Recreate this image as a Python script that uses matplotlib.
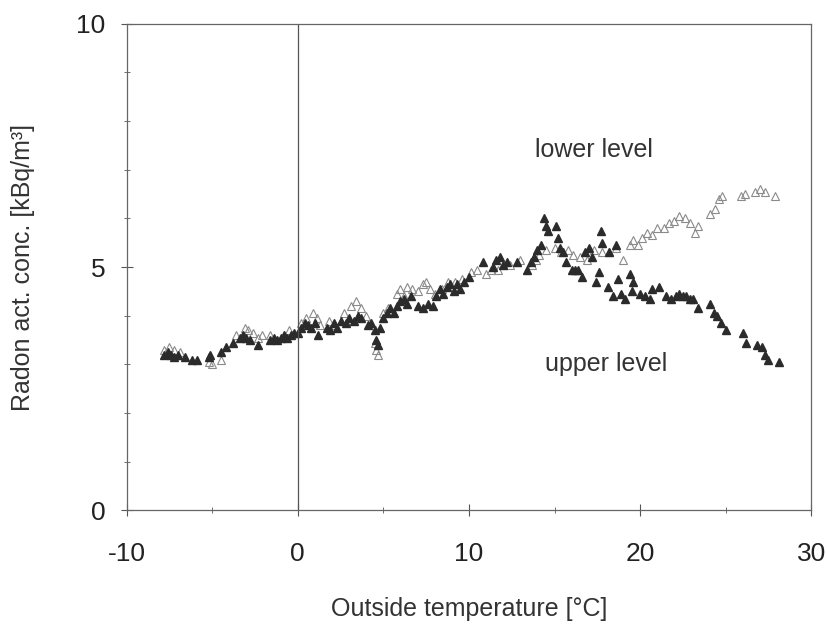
import matplotlib.pyplot as plt
from matplotlib.ticker import MultipleLocator

plt.rcParams['font.family'] = ['Liberation Sans', 'DejaVu Sans']
plt.rcParams['axes.unicode_minus'] = False

# upper level (filled triangles)
upper_x = [-7.8, -7.6, -7.4, -7.2, -7.0, -6.6, -6.2, -5.9, -5.2, -5.1, -4.5, -4.2, -3.8, -3.4, -3.2, -3.0,
           -2.8, -2.3, -1.6, -1.4, -1.2, -1.0, -0.8, -0.6, -0.4, -0.2, 0.0, 0.2, 0.4, 0.6, 0.8, 1.0,
           1.2, 1.7, 1.9, 2.1, 2.3, 2.5, 2.8, 3.0, 3.3, 3.5, 3.7, 4.1, 4.3, 4.5, 4.6, 4.7,
           4.8, 5.0, 5.2, 5.4, 5.6, 5.8, 6.0, 6.2, 6.4, 6.6, 7.0, 7.3, 7.6, 7.9, 8.1, 8.3,
           8.5, 8.7, 8.9, 9.1, 9.3, 9.5, 9.7, 10.0, 10.8, 11.4, 11.6, 11.8, 12.0, 12.2, 12.8, 13.4,
           13.6, 13.8, 14.0, 14.2, 14.4, 14.5, 14.6, 15.1, 15.2, 15.3, 15.5, 15.7, 16.0, 16.2, 16.4, 16.6,
           16.8, 17.0, 17.2, 17.4, 17.6, 17.7, 17.8, 18.1, 18.2, 18.4, 18.6, 18.7, 18.9, 19.1, 19.4, 19.5,
           19.6, 20.0, 20.3, 20.6, 20.7, 21.1, 21.5, 21.8, 22.1, 22.3, 22.5, 22.7, 22.9, 23.1, 23.4, 24.1,
           24.3, 24.5, 24.7, 25.0, 26.0, 26.2, 26.8, 27.1, 27.3, 27.5, 28.1]
upper_y = [3.20, 3.25, 3.20, 3.15, 3.20, 3.15, 3.10, 3.10, 3.15, 3.20, 3.25, 3.35, 3.45, 3.55, 3.60, 3.55,
           3.50, 3.40, 3.50, 3.55, 3.50, 3.55, 3.60, 3.55, 3.60, 3.65, 3.65, 3.75, 3.85, 3.80, 3.75, 3.85,
           3.60, 3.75, 3.70, 3.85, 3.75, 3.90, 3.85, 3.95, 3.90, 4.00, 3.95, 3.80, 3.85, 3.70, 3.50, 3.40,
           3.75, 3.95, 4.05, 4.15, 4.05, 4.20, 4.30, 4.35, 4.25, 4.40, 4.20, 4.15, 4.25, 4.20, 4.40, 4.55,
           4.45, 4.60, 4.65, 4.50, 4.65, 4.55, 4.70, 4.80, 5.10, 5.00, 5.15, 5.20, 5.05, 5.10, 5.10, 4.95,
           5.10, 5.20, 5.35, 5.45, 6.00, 5.85, 5.75, 5.85, 5.60, 5.40, 5.30, 5.10, 4.95, 4.95, 4.95, 4.80,
           5.30, 5.40, 5.20, 4.70, 4.90, 5.75, 5.50, 4.60, 5.30, 4.40, 5.45, 4.75, 4.45, 4.35, 4.85, 4.50,
           4.70, 4.45, 4.40, 4.35, 4.55, 4.60, 4.40, 4.35, 4.40, 4.45, 4.40, 4.40, 4.35, 4.35, 4.15, 4.25,
           4.05, 4.00, 3.85, 3.70, 3.65, 3.45, 3.40, 3.35, 3.20, 3.10, 3.05]

# lower level (open triangles)
lower_x = [-7.8, -7.5, -7.2, -6.9, -5.2, -5.0, -4.5, -3.6, -3.1, -2.9, -2.6, -2.3, -2.1, -1.6, -0.5, 0.2,
           0.5, 0.9, 1.1, 1.3, 1.8, 2.2, 2.7, 3.1, 3.4, 3.7, 4.0, 4.5, 4.6, 4.7, 5.0, 5.3,
           5.8, 6.0, 6.2, 6.4, 6.7, 7.0, 7.3, 7.5, 7.7, 8.0, 8.4, 8.8, 9.2, 9.6, 10.1, 10.5,
           11.0, 11.3, 11.7, 12.4, 13.0, 13.7, 13.9, 14.1, 14.5, 15.0, 15.4, 15.8, 16.1, 16.5, 16.9, 17.3,
           17.8, 18.2, 18.6, 19.0, 19.4, 19.6, 19.9, 20.1, 20.4, 20.7, 21.0, 21.4, 21.7, 22.0, 22.3, 22.6,
           22.9, 23.2, 23.4, 24.1, 24.4, 24.6, 24.8, 25.9, 26.1, 26.7, 27.0, 27.3, 27.9]
lower_y = [3.30, 3.35, 3.30, 3.25, 3.05, 3.00, 3.10, 3.60, 3.75, 3.70, 3.65, 3.55, 3.60, 3.60, 3.70, 3.85,
           3.95, 4.05, 3.95, 3.80, 3.90, 3.80, 4.05, 4.20, 4.30, 4.15, 4.00, 3.45, 3.30, 3.20, 4.05, 4.15,
           4.45, 4.55, 4.40, 4.60, 4.55, 4.50, 4.65, 4.70, 4.55, 4.45, 4.55, 4.70, 4.70, 4.75, 4.90, 4.95,
           4.85, 4.95, 4.95, 5.05, 5.15, 5.05, 5.15, 5.25, 5.35, 5.40, 5.30, 5.35, 5.25, 5.20, 5.15, 5.35,
           5.30, 5.30, 5.40, 5.15, 5.45, 5.55, 5.45, 5.60, 5.70, 5.65, 5.80, 5.80, 5.90, 5.95, 6.05, 6.00,
           5.90, 5.70, 5.85, 6.10, 6.20, 6.40, 6.45, 6.45, 6.50, 6.55, 6.60, 6.55, 6.45]

fig = plt.figure(figsize=(8.27, 6.24), dpi=100)
ax = fig.add_axes([0.153, 0.182, 0.828, 0.78])

ax.plot(lower_x, lower_y, '^', ms=5.5, mfc='none', mec='#8a8a8a', mew=0.8, ls='none')
ax.plot(upper_x, upper_y, '^', ms=5.5, color='#2b2b2b', ls='none')

ax.axvline(0, color='#555555', lw=0.9)

ax.set_xlim(-10, 30)
ax.set_ylim(0, 10)
ax.xaxis.set_major_locator(MultipleLocator(10))
ax.xaxis.set_minor_locator(MultipleLocator(5))
ax.yaxis.set_major_locator(MultipleLocator(5))
ax.yaxis.set_minor_locator(MultipleLocator(1))
ax.tick_params(which='both', direction='inout', color='#555555')
ax.tick_params(which='major', length=8, labelsize=19, pad=11, labelcolor='#222222')
ax.tick_params(axis='x', which='major', pad=19)
ax.tick_params(which='minor', length=5)
for s in ax.spines.values():
    s.set_color('#666666')
    s.set_linewidth(0.9)

ax.text(17.3, 7.4, 'lower level', fontsize=18, ha='center', va='center', color='#333333')
ax.text(18.0, 3.0, 'upper level', fontsize=18, ha='center', va='center', color='#333333')

ax.set_xlabel('Outside temperature [°C]', fontsize=18, labelpad=22, color='#333333')
ax.set_ylabel('Radon act. conc. [kBq/m³]', fontsize=18, labelpad=30, color='#333333')

fig.savefig('out.png', dpi=100)
